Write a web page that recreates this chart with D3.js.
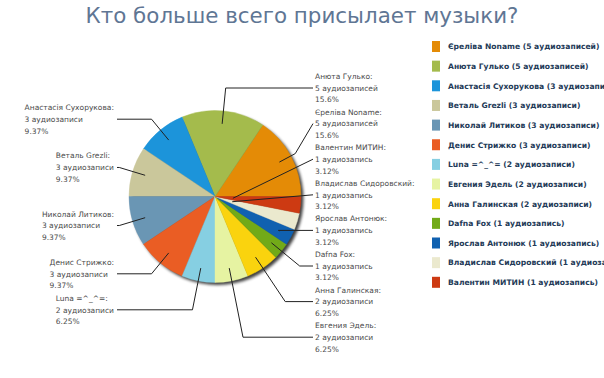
<!DOCTYPE html>
<html>
<head>
<meta charset="utf-8">
<script src="https://cdn.jsdelivr.net/npm/d3@7"></script>
<style>
  body { margin: 0; background: #fff; }
  svg { display: block; }
</style>
</head>
<body>
<div id="chart"></div>
<script>
// who sent the most music
var names = ["Єреліва Noname", "Анюта Гулько", "Анастасія Сухорукова", "Веталь Grezli",
   "Николай Литиков", "Денис Стрижко", "Luna =^_^=", "Евгения Эдель", "Анна Галинская",
   "Dafna Fox", "Ярослав Антонюк", "Владислав Сидоровский", "Валентин МИТИН"];
var counts = [5, 5, 3, 3, 3, 3, 2, 2, 2, 1, 1, 1, 1];
var colors = ["#e48b06", "#a4bb4c", "#1c94da", "#cac79b", "#6a96b4", "#ea5d24", "#86cfe2",
   "#e6f3a2", "#fad30e", "#72aa18", "#1061b0", "#ebe9ce", "#cd3a12"];

var width = 604, height = 378;
var cx = 215, cy = 196.5, radius = 86;

/**word form for the count, russian plural rules */
function word(n) {
   if (n % 10 == 1 && n % 100 != 11) return "аудиозапись";
   if (n % 10 >= 2 && n % 10 <= 4 && (n % 100 < 10 || n % 100 >= 20)) return "аудиозаписи";
   return "аудиозаписей";
}

// 3 significant digits, cut not rounded (9.375 -> 9.37)
function pct(v) {
   var k = 3 - Math.floor(Math.log10(v)) - 1;
   var p = Math.pow(10, k);
   return (Math.floor(v * p + 1e-9) / p) + "%";
}

var total = d3.sum(counts);
var data = names.map(function(n, i) {
   return {name: n, value: counts[i], color: colors[i]};
});

var svg = d3.select("#chart").append("svg")
   .attr("width", width)
   .attr("height", height);

var defs = svg.append("defs");
defs.append("filter").attr("id", "shadow")
   .attr("x", "-20%").attr("y", "-20%").attr("width", "140%").attr("height", "140%")
   .append("feGaussianBlur").attr("stdDeviation", 1.6);

svg.append("text")
   .attr("x", 302)
   .attr("y", 23)
   .attr("text-anchor", "middle")
   .attr("font-family", "DejaVu Sans")
   .attr("font-size", 21.4)
   .attr("fill", "#5f7694")
   .text("Кто больше всего присылает музыки?");

// pie starts at 3 o'clock and runs counterclockwise
var pie = d3.pie()
   .sort(null)
   .value(function(d) { return d.value; })
   .startAngle(Math.PI / 2)
   .endAngle(Math.PI / 2 - 2 * Math.PI);
var arcs = pie(data);
var arc = d3.arc().innerRadius(0).outerRadius(radius);

var g = svg.append("g").attr("transform", "translate(" + cx + "," + cy + ")");

g.append("circle")
   .attr("cx", 2.5)
   .attr("cy", 2.5)
   .attr("r", radius)
   .attr("fill", "#000")
   .attr("opacity", 0.75)
   .attr("filter", "url(#shadow)");

g.selectAll("path.slice")
   .data(arcs)
   .enter()
   .append("path")
   .classed("slice", true)
   .attr("d", arc)
   .attr("fill", function(d) { return d.data.color; })
   .attr("stroke", function(d) { return d.data.color; })
   .attr("stroke-width", 0.4);

// labels: right column is stacked, left column sits near the slice, pushed down on overlap
var leaderR = 73, labelR = 100, lineH = 11.7;
var rightTop = 88, rightStep = 35.6, rightX = 313;
var leftEdge = 114, leftX = 117, leftGap = 36;

arcs.forEach(function(d) {
   d.mid = (d.startAngle + d.endAngle) / 2;
   d.ux = Math.sin(d.mid);
   d.uy = -Math.cos(d.mid);
   d.natY = cy + labelR * d.uy;
   d.right = d.ux > 0;
});

var right = arcs.filter(function(d) { return d.right; })
   .sort(function(a, b) { return a.natY - b.natY; });
var left = arcs.filter(function(d) { return !d.right; })
   .sort(function(a, b) { return a.natY - b.natY; });

right.forEach(function(d, i) { d.ay = rightTop + i * rightStep; d.ax = rightX; });
var last = -1e9;
left.forEach(function(d) {
   d.ay = Math.max(d.natY, last + leftGap);
   last = d.ay;
   d.ax = leftX;
});

var labels = svg.append("g")
   .attr("font-family", "DejaVu Sans")
   .attr("font-size", 7.5)
   .attr("fill", "#4a4a4a");
var leaders = svg.append("g")
   .attr("fill", "none")
   .attr("stroke", "#222")
   .attr("stroke-width", 1);

arcs.forEach(function(d) {
   var t = (d.ay - cy) / d.uy;
   var pts;
   if (!(t > 0)) {
      // anchor on the other side: short line from near the centre
      pts = [[cx + 18 * d.ux, cy + 18 * d.uy], [d.ax, d.ay]];
   }
   else {
      var end = [cx + leaderR * d.ux, cy + leaderR * d.uy];
      var ex = cx + t * d.ux;
      if (d.right && ex > d.ax - 2) {
         pts = [end, [cx + (radius + 5) * d.ux, cy + (radius + 5) * d.uy], [d.ax, d.ay]];
      }
      else if (!d.right && ex < d.ax + 2) {
         pts = [end, [d.ax, d.ay]];
      }
      else {
         pts = [end, [ex, d.ay], [d.ax, d.ay]];
      }
   }
   leaders.append("path").attr("d", d3.line()(pts));

   var lines = [d.data.name + ":", d.data.value + " " + word(d.data.value), pct(d.data.value / total * 100)];
   var txt = labels.append("text");
   lines.forEach(function(s, k) {
      txt.append("tspan")
         .attr("y", d.ay + (k - 1) * lineH + 2.7)
         .text(s);
   });
   if (d.right) {
      txt.selectAll("tspan").attr("x", d.ax + 2);
   }
   else {
      var w = d3.max(txt.selectAll("tspan").nodes(), function(n) { return n.getComputedTextLength(); });
      txt.selectAll("tspan").attr("x", leftEdge - w);
   }
});

// legend
var legend = svg.append("g")
   .attr("font-family", "DejaVu Sans")
   .attr("font-size", 7.6)
   .attr("font-weight", "bold")
   .attr("fill", "#233a57");

var rows = legend.selectAll("g")
   .data(data)
   .enter()
   .append("g")
   .attr("transform", function(d, i) { return "translate(432," + (46.5 + i * 19.65) + ")"; });
rows.append("rect")
   .attr("x", 0)
   .attr("y", -5.5)
   .attr("width", 8)
   .attr("height", 11)
   .attr("fill", function(d) { return d.color; });
rows.append("text")
   .attr("x", 16)
   .attr("y", 2.8)
   .text(function(d) { return d.name + " (" + d.value + " " + word(d.value) + ")"; });
</script>
</body>
</html>
